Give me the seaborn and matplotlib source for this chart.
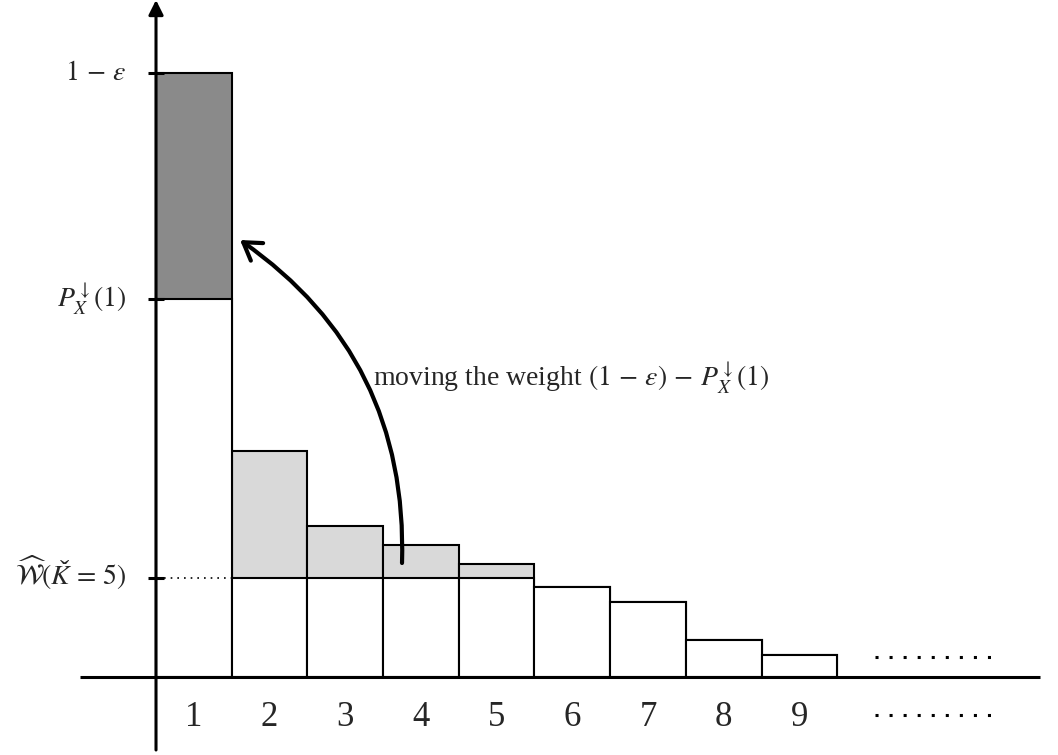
import numpy as np
import pandas as pd
import matplotlib
matplotlib.use("Agg")
import matplotlib.pyplot as plt
import seaborn as sns

# values
categories = ["1", "2", "3", "4", "5", "6", "7", "8", "9"]
probs = [0.378, 0.226, 0.151, 0.132, 0.113, 0.090, 0.075, 0.037, 0.022]
one_minus_eps = 0.604
w_hat = 0.099
k_check = 5

eps_label = r"$1\,-\,\varepsilon$"
p_label = r"$P_X^{\downarrow}(1)$"
w_label = r"$\widehat{\mathcal{W}}(K\,=\,5)$"
note = r"moving the weight $(1\,-\,\varepsilon)\,-\,P_X^{\downarrow}(1)$"

sns.set_style("white")
plt.rcParams["font.family"] = ["Liberation Serif", "DejaVu Serif"]
plt.rcParams["mathtext.fontset"] = "stix"

dark = "#8a8a8a"
light = "#d9d9d9"

totals = [one_minus_eps] + probs[1:k_check] + probs[k_check:]
bases = [probs[0]] + [w_hat] * (k_check - 1) + probs[k_check:]
colors = [dark] + [light] * (k_check - 1) + ["white"] * (len(probs) - k_check)

df = pd.DataFrame({"k": categories, "total": totals, "base": bases})

fig = plt.figure(figsize=(10.58, 7.55), dpi=100)
ax = fig.add_axes([0, 0, 1, 1])

sns.barplot(data=df, x="k", y="total", hue="k", palette=colors, legend=False,
            width=1, saturation=1, edgecolor="black", linewidth=1.5,
            errorbar=None, ax=ax)
sns.barplot(data=df, x="k", y="base", color="white", width=1, saturation=1,
            edgecolor="black", linewidth=1.5, errorbar=None, ax=ax)

ax.set_xlim(-2.561, 11.416)
ax.set_ylim(-0.078, 0.677)
ax.set_axis_off()

# axes
ax.plot([-1.504, 11.18], [0, 0], color="black", lw=2.2, zorder=5,
        solid_capstyle="butt")
ax.annotate("", xy=(-0.5, 0.677), xytext=(-0.5, -0.073),
            arrowprops=dict(arrowstyle="-|>", color="black", lw=2.2,
                            mutation_scale=22, shrinkA=0, shrinkB=0),
            zorder=6)

# y ticks and labels
for val in [one_minus_eps, probs[0], w_hat]:
    ax.plot([-0.6, -0.4], [val, val], color="black", lw=2.2, zorder=6,
            solid_capstyle="butt")
for val, lab in [(one_minus_eps, eps_label), (probs[0], p_label)]:
    ax.annotate(lab, xy=(-0.5, val), xytext=(-21, 0),
                textcoords="offset points", ha="right", va="center",
                fontsize=20)
ax.annotate(w_label, xy=(-0.5, w_hat), xytext=(-21, -5),
            textcoords="offset points", ha="right", va="baseline", fontsize=20)

# caron over K (mathtext has no \check accent)
renderer = fig.canvas.get_renderer()


def text_width(s):
    t = fig.text(0, 0, s, fontsize=20)
    w = t.get_window_extent(renderer).width
    t.remove()
    return w


w_full = text_width(w_label)
w_a = text_width(r"$\widehat{\mathcal{W}}($")
w_b = text_width(r"$\widehat{\mathcal{W}}(K$")
cx_px = -21 * 100 / 72 - w_full + (w_a + w_b) / 2 + 1.5
ax.annotate("ˇ", xy=(-0.5, w_hat), xytext=(cx_px * 0.72, -0.5),
            textcoords="offset points", ha="center", va="baseline",
            fontsize=20)

ax.plot([-0.39, 0.5], [w_hat, w_hat], color="black", lw=1.2,
        linestyle=(0, (1, 3)), zorder=6)

# x labels
for i, c in enumerate(categories):
    ax.text(i, -0.041, c, ha="center", va="center", fontsize=25)

# continuation dots
for yy in [0.020, -0.038]:
    ax.plot([9.0, 10.53], [yy, yy], color="black", lw=2.2,
            linestyle=(0, (1, 3.6)), dash_capstyle="butt")

# curved arrow
ax.annotate("", xy=(0.61, 0.437), xytext=(2.75, 0.114),
            arrowprops=dict(arrowstyle="->, head_length=0.55, head_width=0.35",
                            connectionstyle="arc3,rad=0.27", color="black",
                            lw=3, mutation_scale=22, shrinkA=0, shrinkB=0),
            zorder=7)
ax.text(2.37, 0.299, note, ha="left", va="center", fontsize=20)

fig.savefig("out.png", dpi=100)
